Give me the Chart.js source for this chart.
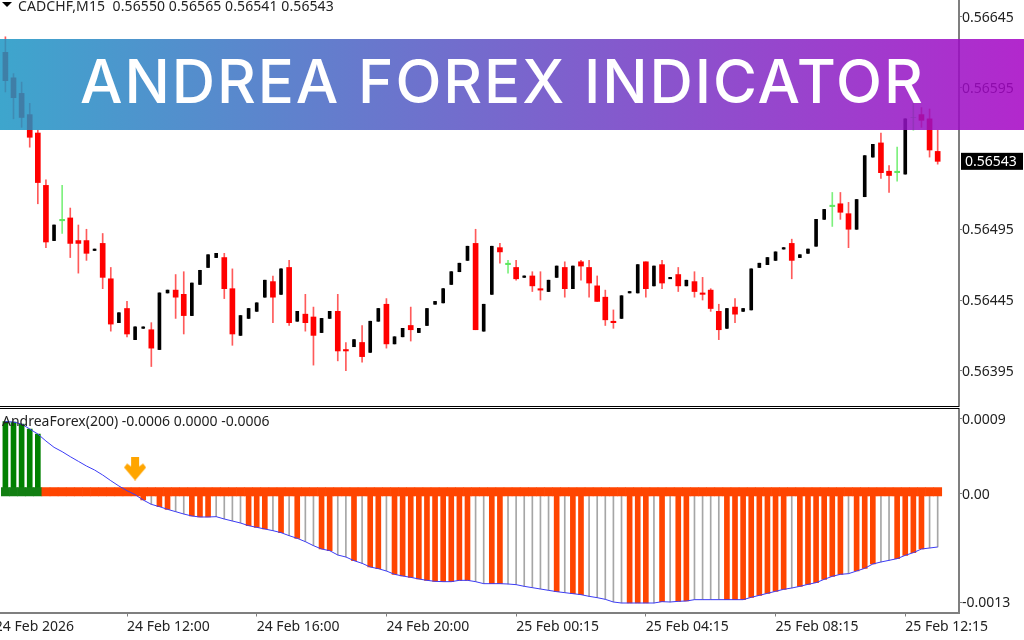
<!DOCTYPE html>
<html>
<head>
<meta charset="utf-8">
<title>Andrea Forex Indicator</title>
<script src="https://cdn.jsdelivr.net/npm/chart.js@4"></script>
<style>
  html, body { margin: 0; padding: 0; background: #fff; }
  body { position: relative; width: 1024px; height: 640px; overflow: hidden; font-family: "Noto Sans", sans-serif; color: #222; }
  canvas { position: absolute; left: 0; display: block; }
  #price-canvas { top: 0; }
  #indicator-canvas { top: 408px; }
  .caption { position: absolute; font-size: 14px; line-height: 16px; white-space: pre; }
  #symbol-caption { left: 18px; top: -2px; letter-spacing: 0.1px; }
  #symbol-marker { position: absolute; left: 2px; top: 2px; width: 0; height: 0; border-left: 5px solid transparent; border-right: 5px solid transparent; border-top: 5px solid #000; }
  #indicator-caption { left: 2px; top: 413px; }
  #banner {
    position: absolute; left: 0; top: 39px; width: 1024px; height: 91px;
    background: linear-gradient(90deg, rgba(28, 150, 196, 0.85), rgba(165, 2, 196, 0.85));
  }
  #banner-text {
    position: absolute; left: 80px; top: 0; color: #fff; font-family: "Inter", sans-serif; font-weight: 500; font-size: 60px; line-height: 84px;
    letter-spacing: 1.9px; white-space: pre;
  }
</style>
</head>
<body>
<canvas id="price-canvas" width="1024" height="407"></canvas>
<canvas id="indicator-canvas" width="1024" height="232"></canvas>
<div id="symbol-marker"></div>
<div id="symbol-caption" class="caption">CADCHF,M15  0.56550 0.56565 0.56541 0.56543</div>
<div id="indicator-caption" class="caption">AndreaForex(200) -0.0006 0.0000 -0.0006</div>
<div id="banner"><div id="banner-text">ANDREA FOREX INDICATOR</div></div>
<script>
const opens = [
  0.56620, 0.56602, 0.56591, 0.56576, 0.56563, 0.56526, 0.56487, 0.56501, 0.56503, 0.56487, 0.56487, 0.56480,
  0.56485, 0.56460, 0.56429, 0.56439, 0.56417, 0.56425, 0.56424, 0.56410, 0.56450, 0.56452, 0.56449, 0.56434,
  0.56456, 0.56468, 0.56475, 0.56475, 0.56453, 0.56420, 0.56432, 0.56437, 0.56447, 0.56458, 0.56449, 0.56468,
  0.56430, 0.56435, 0.56433, 0.56422, 0.56432, 0.56437, 0.56410, 0.56412, 0.56415, 0.56408, 0.56430, 0.56442,
  0.56414, 0.56419, 0.56427, 0.56422, 0.56427, 0.56442, 0.56443, 0.56456, 0.56465, 0.56473, 0.56485, 0.56423,
  0.56449, 0.56482, 0.56470, 0.56468, 0.56461, 0.56462, 0.56453, 0.56451, 0.56461, 0.56468, 0.56453, 0.56472,
  0.56468, 0.56455, 0.56447, 0.56430, 0.56432, 0.56450, 0.56450, 0.56472, 0.56455, 0.56470, 0.56460, 0.56463,
  0.56455, 0.56458, 0.56450, 0.56452, 0.56437, 0.56425, 0.56440, 0.56437, 0.56438, 0.56468, 0.56470, 0.56473,
  0.56481, 0.56485, 0.56475, 0.56478, 0.56483, 0.56502, 0.56511, 0.56513, 0.56506, 0.56495, 0.56518, 0.56546,
  0.56556, 0.56536, 0.56535, 0.56534, 0.56574, 0.56576, 0.56573, 0.56550,
];
const highs = [
  0.56631, 0.56605, 0.56599, 0.56584, 0.56565, 0.56530, 0.56498, 0.56526, 0.56510, 0.56498, 0.56495, 0.56481,
  0.56492, 0.56468, 0.56436, 0.56444, 0.56426, 0.56426, 0.56429, 0.56450, 0.56452, 0.56463, 0.56465, 0.56457,
  0.56466, 0.56477, 0.56478, 0.56478, 0.56467, 0.56434, 0.56439, 0.56443, 0.56459, 0.56462, 0.56467, 0.56473,
  0.56437, 0.56449, 0.56440, 0.56432, 0.56437, 0.56449, 0.56415, 0.56417, 0.56427, 0.56430, 0.56439, 0.56446,
  0.56419, 0.56425, 0.56440, 0.56425, 0.56439, 0.56444, 0.56453, 0.56465, 0.56471, 0.56483, 0.56495, 0.56442,
  0.56483, 0.56485, 0.56473, 0.56473, 0.56462, 0.56465, 0.56465, 0.56459, 0.56469, 0.56472, 0.56469, 0.56473,
  0.56473, 0.56462, 0.56452, 0.56438, 0.56448, 0.56451, 0.56470, 0.56472, 0.56469, 0.56473, 0.56461, 0.56468,
  0.56459, 0.56465, 0.56461, 0.56453, 0.56442, 0.56439, 0.56446, 0.56439, 0.56467, 0.56471, 0.56475, 0.56479,
  0.56482, 0.56488, 0.56477, 0.56481, 0.56502, 0.56509, 0.56521, 0.56521, 0.56514, 0.56516, 0.56547, 0.56555,
  0.56563, 0.56540, 0.56553, 0.56573, 0.56584, 0.56581, 0.56580, 0.56565,
];
const lows = [
  0.56592, 0.56573, 0.56567, 0.56553, 0.56513, 0.56482, 0.56487, 0.56492, 0.56475, 0.56464, 0.56473, 0.56480,
  0.56453, 0.56423, 0.56429, 0.56419, 0.56417, 0.56425, 0.56398, 0.56410, 0.56450, 0.56432, 0.56421, 0.56434,
  0.56456, 0.56468, 0.56475, 0.56446, 0.56413, 0.56420, 0.56432, 0.56437, 0.56447, 0.56429, 0.56449, 0.56427,
  0.56430, 0.56423, 0.56399, 0.56422, 0.56432, 0.56402, 0.56395, 0.56412, 0.56401, 0.56408, 0.56430, 0.56411,
  0.56414, 0.56419, 0.56416, 0.56422, 0.56427, 0.56442, 0.56443, 0.56456, 0.56465, 0.56473, 0.56424, 0.56423,
  0.56449, 0.56471, 0.56464, 0.56459, 0.56461, 0.56451, 0.56445, 0.56451, 0.56461, 0.56447, 0.56453, 0.56459,
  0.56447, 0.56444, 0.56427, 0.56425, 0.56432, 0.56450, 0.56450, 0.56447, 0.56455, 0.56453, 0.56460, 0.56451,
  0.56455, 0.56447, 0.56445, 0.56437, 0.56417, 0.56425, 0.56429, 0.56437, 0.56438, 0.56468, 0.56470, 0.56473,
  0.56481, 0.56460, 0.56475, 0.56478, 0.56483, 0.56502, 0.56497, 0.56502, 0.56482, 0.56495, 0.56518, 0.56546,
  0.56531, 0.56521, 0.56529, 0.56534, 0.56565, 0.56567, 0.56546, 0.56541,
];
const closes = [
  0.56600, 0.56588, 0.56574, 0.56560, 0.56528, 0.56486, 0.56498, 0.56502, 0.56485, 0.56485, 0.56478, 0.56481,
  0.56461, 0.56428, 0.56436, 0.56421, 0.56426, 0.56426, 0.56411, 0.56450, 0.56452, 0.56447, 0.56434, 0.56457,
  0.56466, 0.56477, 0.56478, 0.56453, 0.56421, 0.56434, 0.56439, 0.56443, 0.56459, 0.56447, 0.56467, 0.56429,
  0.56437, 0.56429, 0.56420, 0.56432, 0.56437, 0.56409, 0.56409, 0.56417, 0.56405, 0.56430, 0.56439, 0.56414,
  0.56419, 0.56425, 0.56424, 0.56425, 0.56439, 0.56444, 0.56453, 0.56465, 0.56471, 0.56483, 0.56424, 0.56442,
  0.56483, 0.56479, 0.56471, 0.56460, 0.56462, 0.56455, 0.56452, 0.56459, 0.56469, 0.56453, 0.56469, 0.56469,
  0.56457, 0.56444, 0.56431, 0.56429, 0.56448, 0.56451, 0.56470, 0.56453, 0.56469, 0.56457, 0.56461, 0.56455,
  0.56459, 0.56451, 0.56449, 0.56439, 0.56424, 0.56439, 0.56435, 0.56439, 0.56467, 0.56471, 0.56475, 0.56479,
  0.56482, 0.56473, 0.56477, 0.56481, 0.56502, 0.56509, 0.56512, 0.56507, 0.56495, 0.56516, 0.56547, 0.56555,
  0.56535, 0.56533, 0.56536, 0.56573, 0.56574, 0.56572, 0.56551, 0.56543,
];
const dojiBars = [7, 62, 102, 110, 112];

const priceTicks = [0.56645, 0.56595, 0.56495, 0.56445, 0.56395];

// first entry sits just off the left edge, so its label gets clipped like the original
const timeTickBars = [-1.3, 15, 31, 47, 63, 79, 95, 111];
const timeTickLabels = [
  "24 Feb 2026", "24 Feb 12:00", "24 Feb 16:00", "24 Feb 20:00",
  "25 Feb 00:15", "25 Feb 04:15", "25 Feb 08:15", "25 Feb 12:15",
];

const indicatorLine = [
  0.000868, 0.000864, 0.000840, 0.000780, 0.000720, 0.000636, 0.000560, 0.000508, 0.000448, 0.000392, 0.000336, 0.000288,
  0.000228, 0.000160, 0.000096, 0.000040, -0.000008, -0.000072, -0.000124, -0.000152, -0.000184, -0.000212, -0.000240, -0.000264,
  -0.000276, -0.000276, -0.000272, -0.000300, -0.000324, -0.000348, -0.000380, -0.000400, -0.000420, -0.000440, -0.000464, -0.000500,
  -0.000532, -0.000572, -0.000620, -0.000660, -0.000680, -0.000732, -0.000756, -0.000800, -0.000832, -0.000876, -0.000896, -0.000924,
  -0.000964, -0.000984, -0.001000, -0.001020, -0.001036, -0.001048, -0.001052, -0.001052, -0.001036, -0.001036, -0.001052, -0.001076,
  -0.001076, -0.001076, -0.001080, -0.001088, -0.001108, -0.001124, -0.001140, -0.001156, -0.001172, -0.001184, -0.001196, -0.001208,
  -0.001228, -0.001244, -0.001264, -0.001296, -0.001308, -0.001308, -0.001308, -0.001308, -0.001308, -0.001292, -0.001296, -0.001288,
  -0.001284, -0.001268, -0.001268, -0.001268, -0.001268, -0.001268, -0.001268, -0.001268, -0.001240, -0.001216, -0.001192, -0.001168,
  -0.001144, -0.001128, -0.001108, -0.001084, -0.001064, -0.001024, -0.000988, -0.000964, -0.000956, -0.000924, -0.000892, -0.000840,
  -0.000816, -0.000796, -0.000776, -0.000736, -0.000704, -0.000660, -0.000648, -0.000636,
];
const greenBars = [0, 1, 2, 3, 4];
const thickBars = [
  17, 19, 20, 23, 24, 25, 30, 31, 32, 34, 36, 39, 40, 43, 45, 46, 48, 49, 50, 51, 52, 53, 54, 55, 56, 57,
  60, 61, 68, 70, 71, 77, 78, 79, 81, 83, 84, 89, 90, 91, 92, 93, 94, 95, 96, 98, 99, 100, 101, 102, 103,
  105, 106, 107, 110, 111, 112, 113,
];
const stripTop = 0.000076;
const stripBottom = -0.000024;
const signalBar = 16;
const signalValue = 0.000306;

const indicatorTicks = [0.0009, 0, -0.0013];
const indicatorTickLabels = ["0.0009", "0.00", "-0.0013"];

const FONT = { family: '"Noto Sans", sans-serif', size: 14 };
const TEXT_COLOR = "#222222";
const AXIS_COLOR = "#7f7f7f";
const AXIS_WIDTH = 65;
const X_MIN = -0.666;
const X_MAX = 117.63;

function isRising(index) {
  return closes[index] >= opens[index] && !dojiBars.includes(index);
}

function candleColor(index) {
  return dojiBars.includes(index) ? "#5fe85f" : "#ff0000";
}

function wickColor(index) {
  if (dojiBars.includes(index)) {
    return "#7df07d";
  }
  return isRising(index) ? "#000000" : "#ff5a5a";
}

// chart.js reserves room for the outer tick labels otherwise, which shifts the plot
function clearScalePadding(scale) {
  scale.paddingTop = 0;
  scale.paddingBottom = 0;
  scale.paddingLeft = 0;
  scale.paddingRight = 0;
}

function barScale() {
  return {
    type: "linear",
    offset: false,
    min: X_MIN,
    max: X_MAX,
    display: false,
  };
}

function valueScale(min, max, tickValues, format) {
  return {
    type: "linear",
    position: "right",
    min,
    max,
    afterBuildTicks: (scale) => {
      scale.ticks = tickValues.map((value) => ({ value }));
    },
    afterFit: (scale) => {
      scale.width = AXIS_WIDTH;
      clearScalePadding(scale);
    },
    border: { color: AXIS_COLOR, width: 2 },
    grid: { drawOnChartArea: false, drawTicks: true, tickLength: 3, color: AXIS_COLOR },
    ticks: { color: TEXT_COLOR, font: FONT, padding: 0, labelOffset: 1, autoSkip: false, callback: format },
  };
}

// the black separator line between the two panels
const panelEdge = {
  id: "panelEdge",
  afterDraw(chart, args, options) {
    const { ctx, chartArea } = chart;
    ctx.save();
    ctx.fillStyle = "#000000";
    ctx.fillRect(0, options.y, chartArea.right, 1);
    ctx.restore();
  },
};

const lastPriceBox = {
  id: "lastPriceBox",
  afterDraw(chart) {
    const { ctx } = chart;
    const last = closes[closes.length - 1];
    const y = chart.scales.y.getPixelForValue(last);
    ctx.save();
    ctx.fillStyle = "#000000";
    ctx.fillRect(961, y - 8.5, 62, 17);
    ctx.fillStyle = "#ffffff";
    ctx.font = `${FONT.size}px ${FONT.family}`;
    ctx.textBaseline = "middle";
    ctx.fillText(last.toFixed(5), 965, y + 1);
    ctx.restore();
  },
};

function buildPriceChart(canvas) {
  const bars = opens.map((open, index) => index);
  const risingBars = bars.filter(isRising);
  const otherBars = bars.filter((index) => !isRising(index));
  const toBody = (index) => ({ x: index, y: [opens[index], closes[index]] });
  return new Chart(canvas, {
    type: "bar",
    data: {
      datasets: [
        {
          data: bars.map((index) => ({ x: index, y: [lows[index], highs[index]] })),
          backgroundColor: bars.map(wickColor),
          barThickness: 1,
          order: 3,
        },
        {
          data: otherBars.map(toBody),
          backgroundColor: otherBars.map(candleColor),
          barThickness: 5,
          order: 2,
        },
        {
          data: risingBars.map(toBody),
          backgroundColor: "#000000",
          barThickness: 3,
          order: 1,
        },
      ],
    },
    options: {
      responsive: false,
      animation: false,
      grouped: false,
      layout: { padding: 0, autoPadding: false },
      plugins: {
        legend: { display: false },
        tooltip: { enabled: false },
        panelEdge: { y: 406 },
      },
      scales: {
        x: barScale(),
        y: valueScale(0.563694, 0.56657, priceTicks, (value) => value.toFixed(5)),
      },
    },
    plugins: [panelEdge, lastPriceBox],
  });
}

function buildSignalArrow() {
  const arrow = document.createElement("canvas");
  arrow.width = 22;
  arrow.height = 24;
  const ctx = arrow.getContext("2d");
  ctx.fillStyle = "#ffa500";
  ctx.beginPath();
  ctx.moveTo(7, 0);
  ctx.lineTo(15, 0);
  ctx.lineTo(15, 10);
  ctx.lineTo(19, 7);
  ctx.lineTo(22, 11);
  ctx.lineTo(11, 24);
  ctx.lineTo(0, 11);
  ctx.lineTo(3, 7);
  ctx.lineTo(7, 10);
  ctx.closePath();
  ctx.fill();
  return arrow;
}

function buildIndicatorChart(canvas) {
  const bars = indicatorLine.map((value, index) => index);
  const negativeBars = bars.filter((index) => indicatorLine[index] < 0);
  const thinBars = negativeBars.filter((index) => !thickBars.includes(index));
  const toColumn = (index) => ({ x: index, y: [0, indicatorLine[index]] });

  const labelForValue = (value) => indicatorTickLabels[indicatorTicks.indexOf(value)];
  const labelForBar = (value) => timeTickLabels[timeTickBars.indexOf(value)];

  return new Chart(canvas, {
    type: "bar",
    data: {
      datasets: [
        { data: thinBars.map(toColumn), backgroundColor: "#a6a6a6", barThickness: 1, order: 5 },
        { data: thickBars.map(toColumn), backgroundColor: "#ff4500", barThickness: 5, order: 4 },
        { data: greenBars.map(toColumn), backgroundColor: "#008000", barThickness: 5, order: 4 },
        {
          data: bars.map((index) => ({ x: index, y: [stripBottom, stripTop] })),
          backgroundColor: bars.map((index) => (greenBars.includes(index) ? "#127f12" : "#ff4500")),
          barThickness: 8.1,
          order: 3,
        },
        {
          type: "line",
          data: bars.map((index) => ({ x: index, y: indicatorLine[index] })),
          borderColor: "#3c3cf5",
          borderWidth: 1,
          pointRadius: 0,
          order: 2,
        },
        {
          type: "line",
          data: [{ x: signalBar, y: signalValue }],
          showLine: false,
          pointStyle: buildSignalArrow(),
          order: 1,
        },
      ],
    },
    options: {
      responsive: false,
      animation: false,
      grouped: false,
      layout: { padding: 0, autoPadding: false },
      plugins: {
        legend: { display: false },
        tooltip: { enabled: false },
        panelEdge: { y: 0 },
      },
      scales: {
        x: {
          type: "linear",
          position: "bottom",
          offset: false,
          min: X_MIN,
          max: X_MAX,
          afterBuildTicks: (scale) => {
            scale.ticks = timeTickBars.map((value) => ({ value }));
          },
          afterFit: (scale) => {
            scale.height = 27.5;
            clearScalePadding(scale);
          },
          border: { color: AXIS_COLOR, width: 2 },
          grid: { offset: false, drawOnChartArea: false, drawTicks: true, tickLength: 4, color: AXIS_COLOR },
          ticks: {
            color: TEXT_COLOR,
            font: FONT,
            padding: 2,
            align: "start",
            autoSkip: false,
            maxRotation: 0,
            callback: labelForBar,
          },
        },
        y: valueScale(-0.001422, 0.001032, indicatorTicks, labelForValue),
      },
    },
    plugins: [panelEdge],
  });
}

document.addEventListener("DOMContentLoaded", () => {
  buildPriceChart(document.getElementById("price-canvas"));
  buildIndicatorChart(document.getElementById("indicator-canvas"));
});
</script>
</body>
</html>
